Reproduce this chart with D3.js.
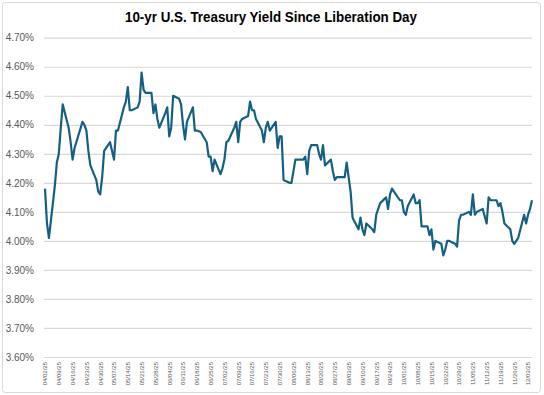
<!DOCTYPE html>
<html>
<head>
<meta charset="utf-8">
<script src="https://cdn.jsdelivr.net/npm/d3@7"></script>
<style>
  html, body { margin: 0; padding: 0; background: #fff; }
  svg { display: block; }
</style>
</head>
<body>
<svg id="chart" width="544" height="395"></svg>
<script>
'use strict'

// chart data
const titleText = '10-yr U.S. Treasury Yield Since Liberation Day'

const dates = [
  '2025-04-02', '2025-04-03', '2025-04-04', '2025-04-07', '2025-04-08', '2025-04-09', '2025-04-10', '2025-04-11',
  '2025-04-14', '2025-04-15', '2025-04-16', '2025-04-17', '2025-04-21', '2025-04-22', '2025-04-23', '2025-04-24',
  '2025-04-25', '2025-04-28', '2025-04-29', '2025-04-30', '2025-05-01', '2025-05-02', '2025-05-05', '2025-05-06',
  '2025-05-07', '2025-05-08', '2025-05-09', '2025-05-12', '2025-05-13', '2025-05-14', '2025-05-15', '2025-05-16',
  '2025-05-19', '2025-05-20', '2025-05-21', '2025-05-22', '2025-05-23', '2025-05-26', '2025-05-27', '2025-05-28',
  '2025-05-29', '2025-05-30', '2025-06-02', '2025-06-03', '2025-06-04', '2025-06-05', '2025-06-06', '2025-06-09',
  '2025-06-10', '2025-06-11', '2025-06-12', '2025-06-13', '2025-06-16', '2025-06-17', '2025-06-18', '2025-06-20',
  '2025-06-23', '2025-06-24', '2025-06-25', '2025-06-26', '2025-06-27', '2025-06-30', '2025-07-01', '2025-07-02',
  '2025-07-03', '2025-07-04', '2025-07-07', '2025-07-08', '2025-07-09', '2025-07-10', '2025-07-11', '2025-07-14',
  '2025-07-15', '2025-07-16', '2025-07-17', '2025-07-18', '2025-07-21', '2025-07-22', '2025-07-23', '2025-07-24',
  '2025-07-25', '2025-07-28', '2025-07-29', '2025-07-30', '2025-07-31', '2025-08-01', '2025-08-04', '2025-08-05',
  '2025-08-06', '2025-08-07', '2025-08-08', '2025-08-11', '2025-08-12', '2025-08-13', '2025-08-14', '2025-08-15',
  '2025-08-18', '2025-08-19', '2025-08-20', '2025-08-21', '2025-08-22', '2025-08-25', '2025-08-26', '2025-08-27',
  '2025-08-28', '2025-08-29', '2025-09-01', '2025-09-02', '2025-09-03', '2025-09-04', '2025-09-05', '2025-09-08',
  '2025-09-09', '2025-09-10', '2025-09-11', '2025-09-12', '2025-09-15', '2025-09-16', '2025-09-17', '2025-09-18',
  '2025-09-19', '2025-09-22', '2025-09-23', '2025-09-24', '2025-09-25', '2025-09-26', '2025-09-29', '2025-09-30',
  '2025-10-01', '2025-10-02', '2025-10-03', '2025-10-06', '2025-10-07', '2025-10-08', '2025-10-09', '2025-10-10',
  '2025-10-13', '2025-10-14', '2025-10-15', '2025-10-16', '2025-10-17', '2025-10-20', '2025-10-21', '2025-10-22',
  '2025-10-23', '2025-10-24', '2025-10-27', '2025-10-28', '2025-10-29', '2025-10-30', '2025-10-31', '2025-11-03',
  '2025-11-04', '2025-11-05', '2025-11-06', '2025-11-07', '2025-11-10', '2025-11-12', '2025-11-13', '2025-11-14',
  '2025-11-17', '2025-11-18', '2025-11-19', '2025-11-20', '2025-11-21', '2025-11-24', '2025-11-25', '2025-11-26',
  '2025-11-28', '2025-12-01', '2025-12-02', '2025-12-03', '2025-12-04', '2025-12-05'
]

const yields = [
  4.18, 4.06, 4.01, 4.19, 4.27, 4.30, 4.39, 4.47,
  4.39, 4.34, 4.28, 4.32, 4.41, 4.40, 4.38, 4.31,
  4.26, 4.21, 4.17, 4.16, 4.22, 4.31, 4.34, 4.31,
  4.28, 4.38, 4.38, 4.46, 4.48, 4.53, 4.45, 4.45,
  4.46, 4.48, 4.58, 4.52, 4.51, 4.51, 4.44, 4.47,
  4.42, 4.39, 4.44, 4.46, 4.36, 4.39, 4.50, 4.49,
  4.47, 4.40, 4.35, 4.41, 4.46, 4.38, 4.38, 4.375,
  4.34, 4.29, 4.29, 4.24, 4.28, 4.23, 4.25, 4.28,
  4.34, 4.345, 4.39, 4.41, 4.34, 4.41, 4.42, 4.43,
  4.48, 4.45, 4.45, 4.42, 4.38, 4.34, 4.39, 4.41,
  4.38, 4.41, 4.32, 4.36, 4.36, 4.21, 4.20, 4.20,
  4.24, 4.28, 4.28, 4.28, 4.29, 4.23, 4.31, 4.33,
  4.33, 4.30, 4.28, 4.33, 4.26, 4.28, 4.24, 4.21,
  4.22, 4.22, 4.22, 4.27, 4.22, 4.17, 4.08, 4.04,
  4.08, 4.04, 4.02, 4.06, 4.04, 4.03, 4.09, 4.11,
  4.13, 4.15, 4.11, 4.16, 4.18, 4.17, 4.14, 4.14,
  4.10, 4.09, 4.12, 4.16, 4.13, 4.13, 4.14, 4.05,
  4.05, 4.02, 4.04, 3.97, 4.00, 3.99, 3.95, 3.97,
  4.00, 4.00, 3.99, 3.98, 4.07, 4.09, 4.09, 4.10,
  4.09, 4.16, 4.09, 4.10, 4.11, 4.06, 4.15, 4.14,
  4.14, 4.12, 4.13, 4.10, 4.06, 4.04, 4.00, 3.99,
  4.01, 4.09, 4.06, 4.09, 4.11, 4.14
]

const yTicks = [3.6, 3.7, 3.8, 3.9, 4.0, 4.1, 4.2, 4.3, 4.4, 4.5, 4.6, 4.7]

const lineColor = '#156082'
const gridColor = '#d9d9d9'
const labelColor = '#595959'

const parseDate = d3.timeParse('%Y-%m-%d')
const data = dates.map((d, i) => ({ date: parseDate(d), value: yields[i] }))

const svg = d3.select('#chart')

// outer chart border
svg.append('rect')
  .attr('x', 2.5).attr('y', 2.5)
  .attr('width', 538).attr('height', 390)
  .attr('rx', 3)
  .attr('fill', '#fff')
  .attr('stroke', gridColor)

let plot = { left: 45, right: 532, top: 37.7, bottom: 357 }

let xScale = d3.scaleTime()
  .domain([parseDate('2025-04-02'), parseDate('2025-12-05')])
  .range([plot.left, plot.right])

let yScale = d3.scaleLinear()
  .domain([3.6, 4.7])
  .range([plot.bottom, plot.top])

// title
svg.append('text')
  .attr('x', 271)
  .attr('y', 21.5)
  .attr('text-anchor', 'middle')
  .attr('font-family', '"Liberation Sans Narrow", "Arial Narrow", "Liberation Sans", sans-serif')
  .attr('font-weight', 'bold')
  .attr('font-size', 15)
  .attr('fill', '#000')
  .attr('textLength', 292)
  .attr('lengthAdjust', 'spacingAndGlyphs')
  .text(titleText)

// y axis with gridlines
let yAxis = svg.append('g')
  .attr('transform', 'translate(' + (plot.left - 1) + ',0)')
  .call(d3.axisLeft(yScale)
    .tickValues(yTicks)
    .tickSize(-(plot.right - plot.left + 1))
    .tickPadding(10)
    .tickFormat(d => d.toFixed(2) + '%'))

yAxis.select('.domain').remove()
yAxis.selectAll('.tick line')
  .attr('stroke', gridColor)
  .attr('stroke-width', 1.2)
yAxis.selectAll('.tick text')
  .attr('fill', labelColor)
  .attr('font-family', '"Liberation Sans", Arial, sans-serif')
  .attr('font-size', 10)

// x axis, weekly labels on Wednesdays
let xTicks = d3.timeWednesday.range(parseDate('2025-04-02'), parseDate('2025-12-04'))

let xAxis = svg.append('g')
  .attr('transform', 'translate(0,' + plot.bottom + ')')
  .call(d3.axisBottom(xScale)
    .tickValues(xTicks)
    .tickSize(0)
    .tickFormat(d3.timeFormat('%m/%d/%y')))

xAxis.select('.domain').remove()
xAxis.selectAll('.tick text')
  .attr('fill', labelColor)
  .attr('font-family', '"Liberation Sans", Arial, sans-serif')
  .attr('font-size', 6)
  .attr('text-anchor', 'end')
  .attr('dy', '0.32em')
  .attr('transform', 'translate(0,5) rotate(-90)')
  .attr('x', 0)
  .attr('y', 0)

// yield line
let line = d3.line()
  .x(d => xScale(d.date))
  .y(d => yScale(d.value))

svg.append('path')
  .datum(data)
  .attr('fill', 'none')
  .attr('stroke', lineColor)
  .attr('stroke-width', 2.2)
  .attr('stroke-linejoin', 'round')
  .attr('d', line)
</script>
</body>
</html>
